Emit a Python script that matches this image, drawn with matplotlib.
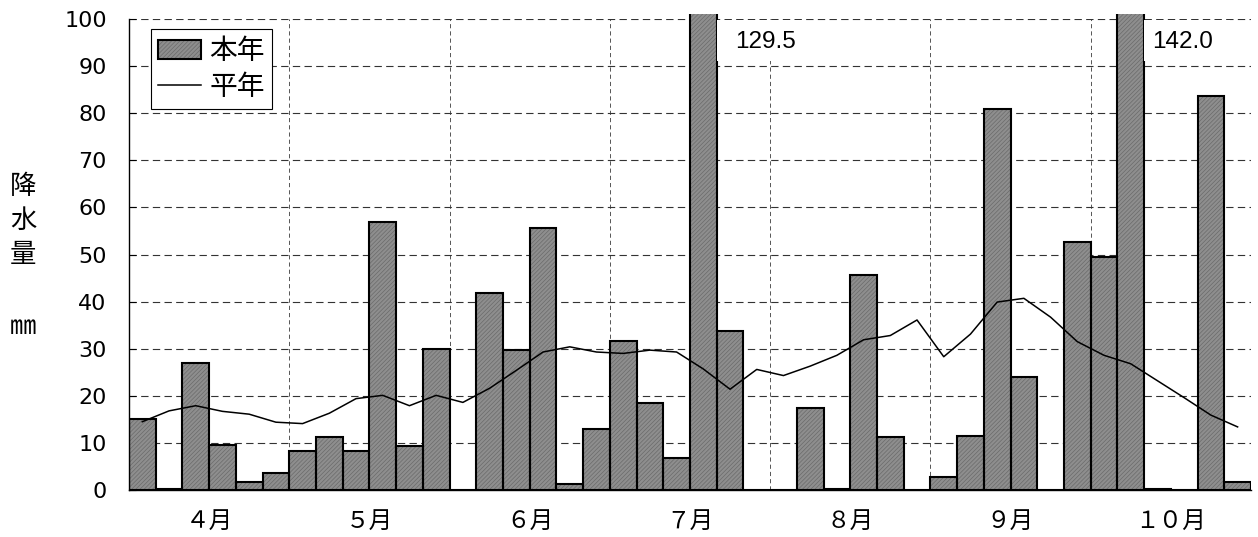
import numpy as np
import matplotlib.pyplot as plt
from matplotlib.patches import Patch, Rectangle
from matplotlib.lines import Line2D

plt.rcParams['font.family'] = ['Noto Sans CJK JP', 'DejaVu Sans']
plt.rcParams['hatch.linewidth'] = 0.5
plt.rcParams['lines.scale_dashes'] = False

# 半旬ごとの降水量 (mm), 4月1半旬 ～ 10月6半旬
months = ['４月', '５月', '６月', '７月', '８月', '９月', '１０月']
this_year = [15.0, 0.3, 27.0, 9.5, 1.7, 3.6,
             8.3, 11.2, 8.3, 57.0, 9.3, 29.9,
             0.0, 41.8, 29.7, 55.6, 1.2, 13.0,
             31.7, 18.5, 6.9, 129.5, 33.8, 0.0,
             0.0, 17.5, 0.3, 45.7, 11.2, 0.0,
             2.7, 11.4, 80.9, 24.1, 0.0, 52.7,
             49.5, 142.0, 0.3, 0.0, 83.7, 1.8]
normal = [14.5, 16.8, 17.9, 16.7, 16.1, 14.4,
          14.1, 16.3, 19.4, 20.1, 17.9, 20.1,
          18.6, 21.6, 25.4, 29.3, 30.4, 29.3,
          29.0, 29.7, 29.3, 25.7, 21.4, 25.6,
          24.3, 26.3, 28.6, 31.9, 32.8, 36.1,
          28.3, 33.1, 39.9, 40.7, 36.7, 31.5,
          28.6, 26.8, 23.2, 19.6, 15.9, 13.4]

x = np.arange(len(this_year))

BAR_FACE = '#8e8e8e'
BAR_HATCH = '#6a6a6a'
HATCH = '////////'

fig = plt.figure(figsize=(12.58, 5.37), dpi=100)
ax = fig.add_axes([0.1025, 0.0875, 0.8919, 0.8771])

# bars may poke slightly above the plot area
clip = Rectangle((0, 0), 1, 1.01, transform=ax.transAxes)

fill = ax.bar(x, this_year, width=1.0, color=BAR_FACE, edgecolor=BAR_HATCH,
              hatch=HATCH, linewidth=0, zorder=2)
edges = ax.bar(x, this_year, width=1.0, fill=False, edgecolor='black',
               linewidth=1.5, zorder=3)
for p in list(fill) + list(edges):
    p.set_clip_path(clip)

ax.plot(x, normal, color='black', lw=1.1, zorder=4)

ax.set_xlim(-0.5, len(x) - 0.5)
ax.set_ylim(0, 100)

# grid
ax.set_yticks(np.arange(0, 101, 10))
ax.yaxis.grid(True, color='#333333', lw=0.8, linestyle=(0, (5.3, 3.1)))
ax.set_xticks(np.arange(5.5, len(x), 6), minor=True)
ax.xaxis.grid(True, which='minor', color='#555555', lw=0.7,
              linestyle=(0, (3.0, 2.2)))
ax.set_axisbelow(True)

ax.set_xticks(np.arange(2.5, len(x), 6))
ax.set_xticklabels(months, fontsize=17)
ax.tick_params(axis='x', which='both', length=0, pad=14)
ax.tick_params(axis='y', direction='in', length=5, width=0.8, pad=16,
               labelsize=16)
for lbl in ax.get_yticklabels():
    lbl.set_fontfamily('DejaVu Sans')

for s in ['top', 'right']:
    ax.spines[s].set_visible(False)
for s in ['left', 'bottom']:
    ax.spines[s].set_linewidth(1.0)
    ax.spines[s].set_color('black')

# values of the bars that run off the top
for idx, dx in [(21, 0.68), (37, 0.29)]:
    ax.add_patch(Rectangle((idx + 0.5, 91.0), 3.2, 8.7, facecolor='white',
                           edgecolor='none', zorder=5))
    ax.text(idx + 0.5 + dx, 95.2, f'{this_year[idx]:.1f}', ha='left',
            va='center', fontsize=17.5, family='Liberation Sans', zorder=6)

# legend
h_bar = (Patch(facecolor=BAR_FACE, edgecolor=BAR_HATCH, hatch=HATCH,
               linewidth=0),
         Patch(facecolor='none', edgecolor='black', linewidth=1.5))
h_line = Line2D([], [], color='black', lw=1.1)
leg = ax.legend([h_bar, h_line], ['本年', '平年'], loc='upper left',
                bbox_to_anchor=(0.0196, 0.978), borderaxespad=0,
                fontsize=20, handlelength=1.55, handletextpad=0.3,
                borderpad=0.25, labelspacing=0.2, fancybox=False,
                framealpha=1, edgecolor='black')
leg.get_frame().set_linewidth(0.8)
leg.set_zorder(7)

# y-axis title, stacked vertically
for k, ch in enumerate('降水量'):
    fig.text(23 / 1258, 1 - (186 + 34 * k) / 537, ch, ha='center',
             va='center', fontsize=19)
fig.text(23 / 1258, 1 - 326 / 537, '㎜', ha='center', va='center',
         fontsize=19)

fig.savefig('out.png', dpi=100)
